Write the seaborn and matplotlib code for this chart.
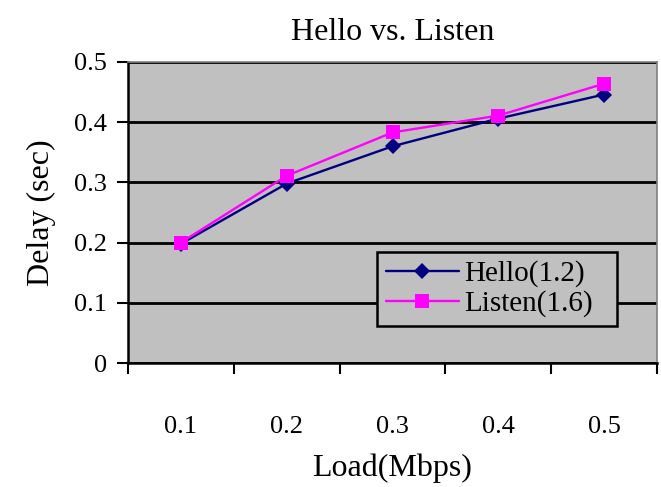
import numpy as np
import pandas as pd
import matplotlib
matplotlib.use("Agg")
import matplotlib.pyplot as plt
from matplotlib.ticker import FixedLocator
import seaborn as sns

# Load levels (Mbps) and measured delays (sec)
loads = ["0.1", "0.2", "0.3", "0.4", "0.5"]
hello_delay = [0.198, 0.298, 0.360, 0.406, 0.446]
listen_delay = [0.200, 0.311, 0.383, 0.411, 0.464]
series_names = ["Hello(1.2)", "Listen(1.6)"]
y_ticks = [0, 0.1, 0.2, 0.3, 0.4, 0.5]
y_tick_labels = ["0", "0.1", "0.2", "0.3", "0.4", "0.5"]

pos = np.arange(len(loads))
df = pd.DataFrame({
    "pos": np.concatenate([pos, pos]),
    "delay": hello_delay + listen_delay,
    "series": [series_names[0]] * len(loads) + [series_names[1]] * len(loads),
})

sns.set_theme(style="white")
plt.rcParams["font.family"] = ["Liberation Serif", "DejaVu Serif"]
plt.rcParams.update({
    "text.color": "black", "axes.labelcolor": "black",
    "xtick.color": "black", "ytick.color": "black",
})

fig = plt.figure(figsize=(6.61, 4.87), dpi=100)
ax = fig.add_axes([128 / 661, 1 - 363 / 487, (657 - 128) / 661, (363 - 62) / 487])
ax.set_facecolor("#c0c0c0")

sns.lineplot(
    data=df, x="pos", y="delay", hue="series", style="series",
    palette={series_names[0]: "#000080", series_names[1]: "#ff00ff"},
    markers={series_names[0]: "D", series_names[1]: "s"},
    dashes=False, linewidth=1.7, markersize=10, markeredgewidth=0,
    ax=ax, zorder=3,
)
# diamond a bit smaller than the square
for line in ax.lines:
    if line.get_marker() == "D":
        line.set_markersize(8)

ax.set_xlim(-0.5, len(loads) - 0.5)
ax.set_ylim(0, 0.5)

# y axis
ax.yaxis.set_major_locator(FixedLocator(y_ticks))
ax.set_yticklabels(y_tick_labels)
ax.tick_params(axis="y", which="major", direction="out", length=8, width=1.5,
               color="black", labelsize=19, pad=7, left=True)
ax.grid(axis="y", color="black", linewidth=2, zorder=1)
ax.set_axisbelow(True)

# x axis: category labels centered, tick marks on category boundaries
ax.xaxis.set_major_locator(FixedLocator(pos))
ax.set_xticklabels(loads)
ax.xaxis.set_minor_locator(FixedLocator(np.arange(len(loads) + 1) - 0.5))
ax.tick_params(axis="x", which="major", length=0, labelsize=19, pad=38)
ax.tick_params(axis="x", which="minor", direction="out", length=8, width=1.5,
               color="black", bottom=True)

for side in ("left", "bottom"):
    ax.spines[side].set_color("black")
    ax.spines[side].set_linewidth(1.8)
for side in ("top", "right"):
    ax.spines[side].set_color("#808080")
    ax.spines[side].set_linewidth(1.2)

ax.set_xlabel("Load(Mbps)", fontsize=23, labelpad=11)
ax.set_ylabel("Delay (sec)", fontsize=23, labelpad=13)
ax.set_title("Hello vs. Listen", fontsize=23, pad=16)

leg = ax.legend(
    loc="lower left", bbox_to_anchor=((377 - 128) / 529, (363 - 326) / 301,
                                      (617 - 377) / 529, (326 - 249) / 301),
    mode="expand", borderaxespad=0, fontsize=21, frameon=True, fancybox=False,
    handlelength=2.5, handletextpad=0.2, borderpad=0.3, labelspacing=0.1,
)
leg.get_frame().set_edgecolor("black")
leg.get_frame().set_linewidth(1.8)
leg.get_frame().set_facecolor("#c0c0c0")
leg.get_frame().set_alpha(1)

fig.savefig("out.png", dpi=100)
